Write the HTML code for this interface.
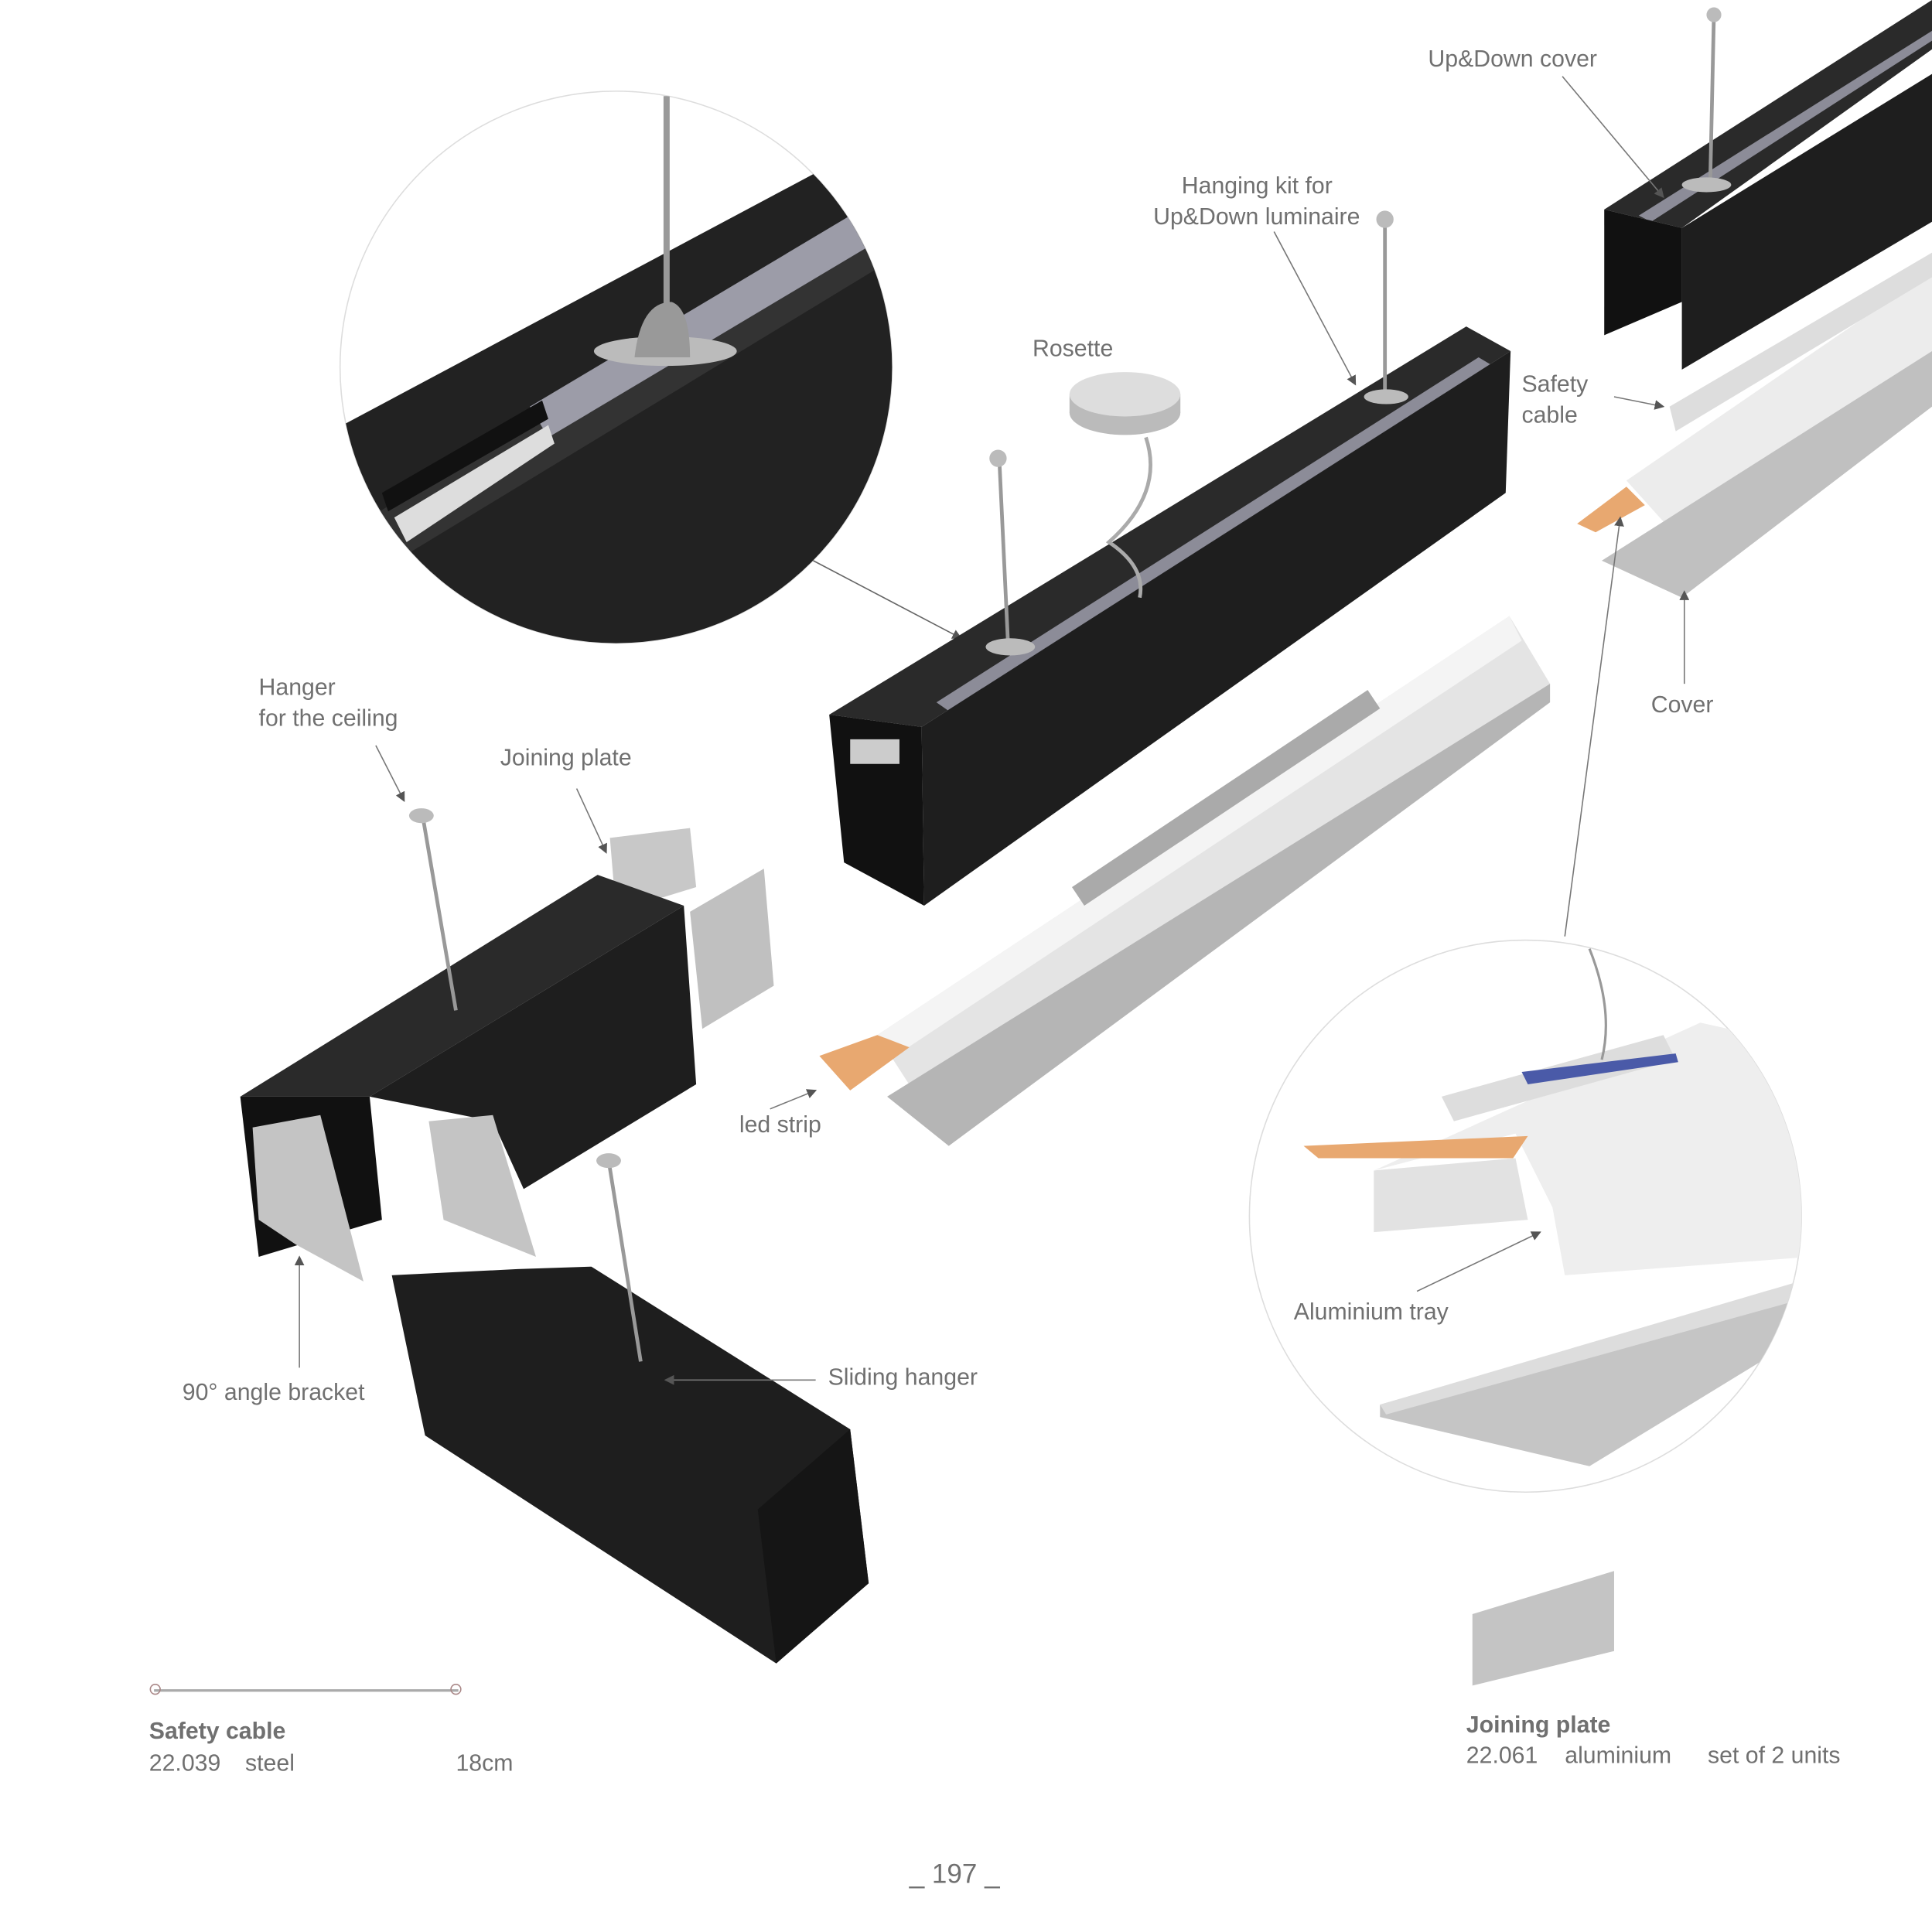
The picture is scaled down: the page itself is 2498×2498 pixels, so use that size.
<!DOCTYPE html>
<html><head><meta charset="utf-8"><style>
html,body{margin:0;padding:0;background:#fff}
svg{display:block}
text{font-family:"Liberation Sans",sans-serif;fill:#707070;font-size:19px}
</style></head><body>
<svg width="2498" height="2498" viewBox="0 0 1568 1568" xmlns="http://www.w3.org/2000/svg">
<defs>
<clipPath id="c1"><circle cx="500" cy="298" r="224"/></clipPath>
<clipPath id="c2"><circle cx="1238" cy="987" r="224"/></clipPath>
<marker id="ar" markerWidth="8" markerHeight="8" refX="7" refY="4" orient="auto"><path d="M0,0 L8,4 L0,8z" fill="#555"/></marker>
</defs>
<rect width="1568" height="1568" fill="#fff"/>

<!-- top-left zoom circle -->
<circle cx="500" cy="298" r="224" fill="#fff" stroke="#ddd"/>
<g clip-path="url(#c1)">
<polygon points="250,360 700,120 760,230 760,600 250,600" fill="#222"/>
<polygon points="300,420 700,175 725,210 330,450" fill="#333"/>
<polygon points="430,330 690,175 705,200 445,355" fill="#9c9ca8"/>
<polygon points="320,420 445,345 450,360 330,440" fill="#ddd"/>
<polygon points="310,400 440,325 445,340 315,415" fill="#111"/>
<line x1="541" y1="78" x2="541" y2="250" stroke="#999" stroke-width="5"/>
<ellipse cx="540" cy="285" rx="58" ry="12" fill="#bbb"/>
<path d="M515,290 Q520,245 545,245 Q560,250 560,290z" fill="#999"/>
</g>
<line x1="660" y1="455" x2="780" y2="518" stroke="#666" marker-end="url(#ar)"/>

<!-- center tray -->
<polygon points="712,840 1225,500 1258,555 770,930" fill="#e4e4e4"/>
<polygon points="712,840 1225,500 1235,520 722,860" fill="#f4f4f4"/>
<polygon points="720,890 1258,555 1258,570 770,930" fill="#b5b5b5"/>
<polygon points="870,720 1110,560 1120,575 880,735" fill="#aaa"/>
<polygon points="665,857 712,840 738,850 690,885" fill="#e8a870"/>

<!-- center black bar -->
<polygon points="673,580 1190,265 1226,285 748,590" fill="#2a2a2a"/>
<polygon points="760,570 1200,290 1210,296 770,577" fill="#8c8c98"/>
<polygon points="748,590 1226,285 1222,400 750,735" fill="#1e1e1e"/>
<polygon points="673,580 748,590 750,735 685,700" fill="#111"/>
<rect x="690" y="600" width="40" height="20" fill="#ccc"/>
<line x1="811" y1="372" x2="818" y2="520" stroke="#999" stroke-width="3"/>
<circle cx="810" cy="372" r="7" fill="#bbb"/>
<line x1="1124" y1="178" x2="1124" y2="320" stroke="#999" stroke-width="3"/>
<circle cx="1124" cy="178" r="7" fill="#bbb"/>
<ellipse cx="820" cy="525" rx="20" ry="7" fill="#bbb"/>
<ellipse cx="1125" cy="322" rx="18" ry="6" fill="#bbb"/>
<!-- rosette -->
<ellipse cx="913" cy="335" rx="45" ry="18" fill="#bbb"/>
<rect x="868" y="320" width="90" height="15" fill="#bbb"/>
<ellipse cx="913" cy="320" rx="45" ry="18" fill="#ddd"/>
<path d="M930,355 Q945,400 900,440 Q930,460 925,485" fill="none" stroke="#aaa" stroke-width="3"/>

<!-- top right bar -->
<polygon points="1302,170 1568,0 1568,40 1365,185" fill="#2a2a2a"/>
<polygon points="1330,175 1568,25 1568,33 1340,180" fill="#8c8c98"/>
<polygon points="1365,185 1568,60 1568,180 1365,300" fill="#1e1e1e"/>
<polygon points="1302,170 1365,185 1365,245 1302,272" fill="#111"/>
<line x1="1391" y1="12" x2="1388" y2="148" stroke="#999" stroke-width="3"/>
<circle cx="1391" cy="12" r="6" fill="#bbb"/>
<ellipse cx="1385" cy="150" rx="20" ry="6" fill="#bbb"/>
<!-- right tray -->
<polygon points="1320,390 1568,220 1568,330 1365,440" fill="#ececec"/>
<polygon points="1300,455 1568,285 1568,330 1365,485" fill="#c0c0c0"/>
<polygon points="1355,330 1568,205 1568,225 1360,350" fill="#ddd"/>
<polygon points="1280,425 1320,395 1335,410 1295,432" fill="#e8a870"/>

<!-- lower-left assembly -->
<polygon points="495,680 560,672 565,720 500,740" fill="#c8c8c8"/>
<polygon points="560,740 620,705 628,800 570,835" fill="#c0c0c0"/>
<polygon points="195,890 485,710 555,735 300,890" fill="#2a2a2a"/>
<polygon points="300,890 555,735 565,880 425,965 400,910" fill="#1e1e1e"/>
<polygon points="195,890 300,890 310,990 210,1020" fill="#111"/>
<polygon points="205,915 260,905 295,1040 240,1010 210,990" fill="#c4c4c4"/>
<polygon points="348,910 400,905 435,1020 360,990" fill="#c4c4c4"/>
<line x1="343" y1="662" x2="370" y2="820" stroke="#999" stroke-width="3"/>
<ellipse cx="342" cy="662" rx="10" ry="6" fill="#bbb"/>

<!-- bottom profile -->
<polygon points="318,1035 420,1030 480,1028 690,1160 705,1285 630,1350 345,1165" fill="#1e1e1e"/>
<polygon points="615,1225 690,1160 705,1285 630,1350" fill="#151515"/>
<line x1="494" y1="942" x2="520" y2="1105" stroke="#999" stroke-width="3"/>
<ellipse cx="494" cy="942" rx="10" ry="6" fill="#bbb"/>

<!-- bottom-right circle -->
<circle cx="1238" cy="987" r="224" fill="#fff" stroke="#ddd"/>
<g clip-path="url(#c2)">
<polygon points="1115,950 1380,830 1470,850 1470,1020 1270,1035 1260,980 1230,920" fill="#eee"/>
<polygon points="1170,890 1350,840 1360,860 1180,910" fill="#ddd"/>
<polygon points="1235,870 1360,855 1362,862 1240,880" fill="#4a5aa8"/>
<polygon points="1115,950 1230,940 1240,990 1115,1000" fill="#e2e2e2"/>
<polygon points="1058,930 1240,922 1228,940 1070,940" fill="#e8a870"/>
<polygon points="1120,1140 1470,1040 1470,1080 1290,1190 1120,1150" fill="#c5c5c5"/>
<polygon points="1120,1140 1460,1040 1460,1055 1125,1148" fill="#ddd"/>
<path d="M1290,770 Q1310,820 1300,860" fill="none" stroke="#999" stroke-width="2"/>
</g>

<!-- small joining plate -->
<polygon points="1195,1310 1310,1275 1310,1340 1195,1368" fill="#c4c4c4"/>
<!-- safety cable -->
<line x1="125" y1="1372" x2="372" y2="1372" stroke="#aaa" stroke-width="2"/>
<circle cx="126" cy="1371" r="4" fill="none" stroke="#a88"/>
<circle cx="370" cy="1371" r="4" fill="none" stroke="#a88"/>

<!-- leader lines -->
<g stroke="#777" stroke-width="1" fill="none">
<line x1="1268" y1="62" x2="1350" y2="160" marker-end="url(#ar)"/>
<line x1="1034" y1="188" x2="1100" y2="312" marker-end="url(#ar)"/>
<line x1="1310" y1="322" x2="1350" y2="330" marker-end="url(#ar)"/>
<line x1="1367" y1="555" x2="1367" y2="480" marker-end="url(#ar)"/>
<line x1="1270" y1="760" x2="1315" y2="420" marker-end="url(#ar)"/>
<line x1="305" y1="605" x2="328" y2="650" marker-end="url(#ar)"/>
<line x1="468" y1="640" x2="492" y2="692" marker-end="url(#ar)"/>
<line x1="625" y1="900" x2="662" y2="885" marker-end="url(#ar)"/>
<line x1="243" y1="1110" x2="243" y2="1020" marker-end="url(#ar)"/>
<line x1="662" y1="1120" x2="540" y2="1120" marker-end="url(#ar)"/>
<line x1="1150" y1="1048" x2="1250" y2="1000" marker-end="url(#ar)"/>
</g>

<!-- labels -->
<text x="1159" y="54">Up&amp;Down cover</text>
<text x="959" y="157">Hanging kit for</text>
<text x="936" y="182">Up&amp;Down luminaire</text>
<text x="838" y="289">Rosette</text>
<text x="1235" y="318">Safety</text>
<text x="1235" y="343">cable</text>
<text x="1340" y="578">Cover</text>
<text x="210" y="564">Hanger</text>
<text x="210" y="589">for the ceiling</text>
<text x="406" y="621">Joining plate</text>
<text x="600" y="919">led strip</text>
<text x="1050" y="1071">Aluminium tray</text>
<text x="148" y="1136">90° angle bracket</text>
<text x="672" y="1124">Sliding hanger</text>
<text x="121" y="1411" style="font-weight:bold">Safety cable</text>
<text x="121" y="1437">22.039</text><text x="199" y="1437">steel</text><text x="370" y="1437">18cm</text>
<text x="1190" y="1406" style="font-weight:bold">Joining plate</text>
<text x="1190" y="1431">22.061</text><text x="1270" y="1431">aluminium</text><text x="1386" y="1431">set of 2 units</text>
<text x="738" y="1528" style="font-size:22px">_ 197 _</text>
</svg>
</body></html>
